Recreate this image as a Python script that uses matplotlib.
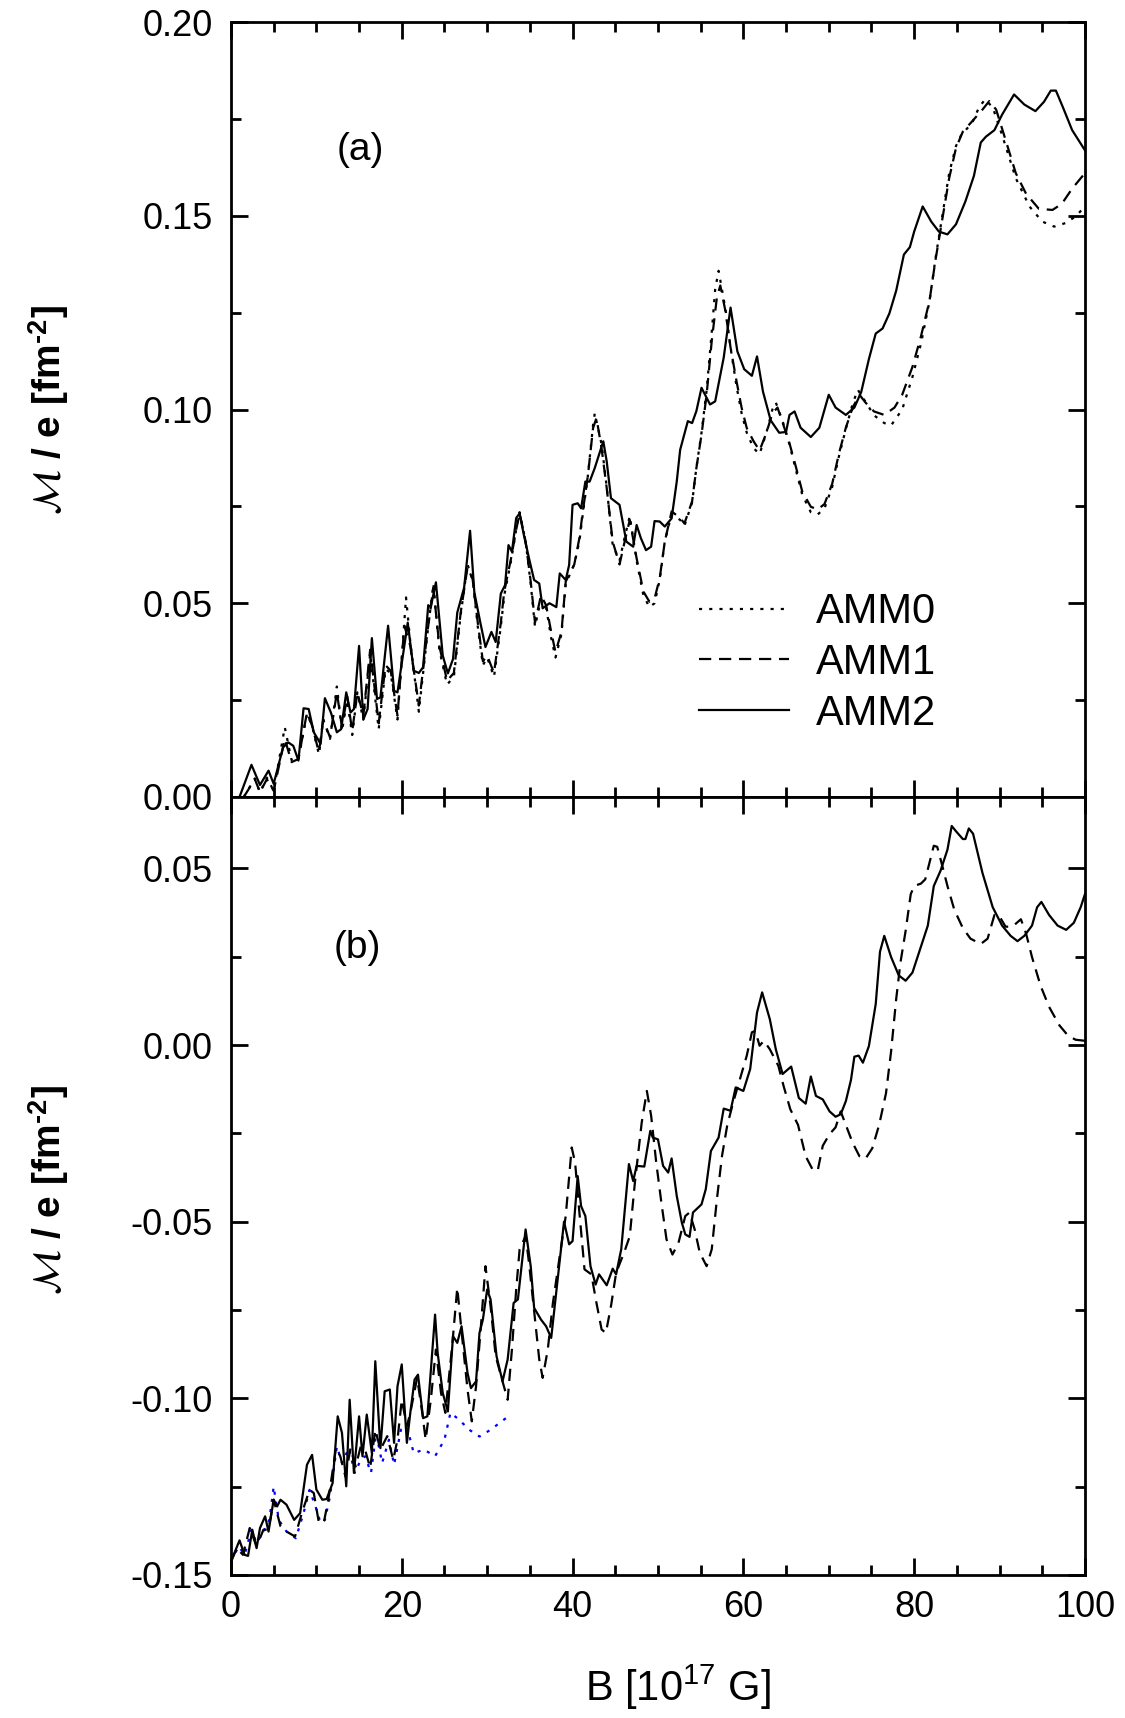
import numpy as np
import matplotlib
matplotlib.use("Agg")
import matplotlib.pyplot as plt
from matplotlib.ticker import MultipleLocator, FormatStrFormatter

plt.rcParams['font.family'] = ['Liberation Sans', 'DejaVu Sans']
plt.rcParams['axes.unicode_minus'] = False

# ---------------- data: panel (a) ----------------
amm2_a = [(1.0, 0.0), (2.4, 0.0083), (3.4, 0.0031), (4.4, 0.0068), (5.0, 0.0034), (6.1, 0.0128),
          (6.7, 0.0141), (7.3, 0.0132), (7.9, 0.0094), (8.5, 0.0229), (9.1, 0.0227), (9.7, 0.0167),
          (10.5, 0.0137), (11.0, 0.0255), (11.7, 0.0218), (12.4, 0.0167), (12.9, 0.0175), (13.5, 0.027),
          (14.0, 0.0218), (14.4, 0.0227), (15.0, 0.039), (15.5, 0.020), (16.0, 0.0227), (16.5, 0.041),
          (17.1, 0.0253), (17.5, 0.0257), (18.4, 0.0442), (19.1, 0.0274), (19.5, 0.027), (20.7, 0.045),
          (21.4, 0.0326), (22.0, 0.032), (22.5, 0.0335), (23.1, 0.0495), (23.4, 0.049), (24.0, 0.0554),
          (24.8, 0.0365), (25.4, 0.0319), (26.0, 0.0356), (26.5, 0.0476), (27.3, 0.054), (28.0, 0.0687),
          (28.5, 0.0528), (29.2, 0.045), (29.8, 0.0387), (30.5, 0.0426), (31.0, 0.040), (31.6, 0.0525),
          (32.1, 0.0547), (32.5, 0.065), (32.9, 0.0633), (33.4, 0.072), (33.8, 0.0732), (34.3, 0.0676),
          (34.9, 0.0616), (35.5, 0.056), (36.1, 0.0551), (36.5, 0.0487), (37.3, 0.050), (38.1, 0.049),
          (38.5, 0.0577), (39.2, 0.056), (39.6, 0.0599), (40.0, 0.0754), (40.6, 0.0758), (41.0, 0.0745),
          (41.5, 0.0814), (42.0, 0.0814), (42.6, 0.0849), (43.6, 0.0918), (44.0, 0.0866), (44.5, 0.0771),
          (45.5, 0.0754), (46.3, 0.0659), (47.1, 0.0646), (47.5, 0.0702), (48.0, 0.0668), (48.6, 0.0637),
          (49.2, 0.0646), (49.6, 0.0712), (50.2, 0.0711), (50.8, 0.0698), (51.6, 0.0719), (52.2, 0.0814),
          (52.6, 0.0896), (53.5, 0.097), (54.0, 0.0965), (54.5, 0.0996), (55.1, 0.1056), (56.1, 0.1013),
          (56.7, 0.1021), (57.7, 0.1134), (58.5, 0.1263), (59.3, 0.115), (60.1, 0.1104), (61.0, 0.1087),
          (61.6, 0.1137), (62.3, 0.1046), (63.2, 0.0972), (64.2, 0.094), (65.0, 0.0942), (65.4, 0.0986),
          (66.0, 0.0995), (66.7, 0.0953), (67.9, 0.0929), (68.9, 0.0953), (70.0, 0.1038), (70.8, 0.1005),
          (72.0, 0.0986), (73.0, 0.1005), (73.8, 0.1045), (74.7, 0.113), (75.5, 0.1196), (76.3, 0.1209),
          (77.1, 0.1248), (77.9, 0.1307), (78.8, 0.140), (79.5, 0.1419), (80.0, 0.1459), (81.0, 0.1524),
          (82.0, 0.1485), (82.9, 0.1459), (83.9, 0.1452), (84.9, 0.1478), (86.0, 0.1537), (87.0, 0.1603),
          (87.8, 0.1689), (88.4, 0.1704), (89.4, 0.1721), (90.3, 0.1761), (91.7, 0.1813), (92.9, 0.1787),
          (94.2, 0.177), (95.2, 0.1794), (96.0, 0.1823), (96.6, 0.1823), (97.4, 0.1781), (98.5, 0.1721),
          (100.0, 0.1669)]

amm1_a = [(1.5, 0.0), (2.8, 0.0046), (3.4, 0.0012), (4.2, 0.0046), (5.0, 0.0016), (6.3, 0.015),
          (7.1, 0.009), (7.9, 0.0098), (8.9, 0.0218), (9.5, 0.0184), (10.3, 0.0115), (10.8, 0.020),
          (11.6, 0.0154), (12.4, 0.027), (13.0, 0.018), (13.6, 0.026), (14.2, 0.017), (14.8, 0.027),
          (15.5, 0.021), (16.3, 0.038), (17.3, 0.019), (18.1, 0.034), (18.7, 0.0326), (19.5, 0.021),
          (20.3, 0.0442), (21.0, 0.039), (22.0, 0.0236), (23.0, 0.0425), (23.7, 0.054), (24.4, 0.039),
          (25.3, 0.030), (26.1, 0.032), (26.9, 0.0476), (27.7, 0.0593), (28.3, 0.0562), (28.9, 0.045),
          (29.5, 0.035), (30.0, 0.0365), (30.8, 0.032), (31.6, 0.045), (32.0, 0.053), (32.8, 0.0616),
          (33.4, 0.069), (33.8, 0.0732), (34.5, 0.066), (35.1, 0.0556), (35.6, 0.045), (36.3, 0.052),
          (36.9, 0.0495), (37.5, 0.0426), (38.0, 0.0374), (38.7, 0.0426), (39.2, 0.0556), (40.2, 0.060),
          (40.8, 0.0668), (41.2, 0.0737), (41.8, 0.083), (42.4, 0.0952), (42.8, 0.0978), (43.4, 0.090),
          (44.0, 0.0797), (44.7, 0.0659), (45.5, 0.060), (46.1, 0.0659), (46.7, 0.0715), (47.5, 0.0616),
          (48.3, 0.053), (49.0, 0.0504), (49.6, 0.0512), (50.2, 0.0564), (50.8, 0.0659), (51.6, 0.0737),
          (52.6, 0.072), (53.1, 0.0706), (54.0, 0.0763), (54.5, 0.0849), (55.1, 0.0935), (55.7, 0.1039),
          (56.3, 0.1177), (56.9, 0.1289), (57.3, 0.132), (57.9, 0.1254), (58.5, 0.116), (59.2, 0.1073),
          (59.8, 0.1004), (60.4, 0.0952), (61.2, 0.0918), (61.9, 0.0894), (62.7, 0.094), (63.4, 0.099),
          (64.0, 0.1005), (64.6, 0.0966), (65.4, 0.0913), (66.2, 0.0848), (66.9, 0.0788), (67.9, 0.0749),
          (68.7, 0.0742), (69.5, 0.0756), (70.4, 0.0808), (71.2, 0.0887), (72.0, 0.0953), (72.8, 0.1005),
          (73.6, 0.1038), (74.3, 0.1018), (75.3, 0.0995), (76.5, 0.0986), (77.7, 0.1005), (78.6, 0.1038),
          (79.8, 0.111), (80.8, 0.1189), (81.8, 0.1281), (82.5, 0.1386), (83.3, 0.1491), (84.1, 0.1597),
          (84.9, 0.1675), (85.7, 0.1717), (86.8, 0.1744), (88.0, 0.1774), (88.8, 0.1796), (89.6, 0.1774),
          (90.8, 0.1689), (91.9, 0.161), (93.1, 0.1557), (94.6, 0.1518), (96.2, 0.1515), (97.3, 0.1531),
          (98.5, 0.157), (100.0, 0.161)]

amm0_a = [(1.5, 0.0), (2.8, 0.0048), (3.4, 0.0012), (4.2, 0.005), (5.0, 0.0016), (6.3, 0.018),
          (7.1, 0.0095), (7.9, 0.0098), (8.9, 0.0215), (9.5, 0.0184), (10.3, 0.011), (10.8, 0.020),
          (11.6, 0.015), (12.4, 0.0285), (13.0, 0.017), (13.6, 0.025), (14.2, 0.016), (14.8, 0.027),
          (15.5, 0.020), (16.3, 0.037), (17.3, 0.0175), (18.1, 0.033), (18.7, 0.032), (19.5, 0.020),
          (20.5, 0.0515), (21.0, 0.040), (22.0, 0.022), (23.0, 0.042), (23.7, 0.055), (24.4, 0.038),
          (25.3, 0.029), (26.1, 0.031), (26.9, 0.047), (27.7, 0.060), (28.3, 0.056), (28.9, 0.044),
          (29.5, 0.034), (30.0, 0.036), (30.8, 0.031), (31.6, 0.044), (32.0, 0.052), (32.8, 0.061),
          (33.4, 0.069), (33.8, 0.0735), (34.5, 0.066), (35.1, 0.055), (35.6, 0.044), (36.3, 0.051),
          (36.9, 0.049), (37.5, 0.041), (38.0, 0.036), (38.7, 0.042), (39.2, 0.055), (40.2, 0.060),
          (40.8, 0.066), (41.2, 0.073), (41.8, 0.083), (42.4, 0.096), (42.6, 0.099), (43.4, 0.091),
          (44.0, 0.080), (44.7, 0.065), (45.5, 0.061), (46.1, 0.067), (46.7, 0.0725), (47.5, 0.061),
          (48.3, 0.052), (49.0, 0.049), (49.6, 0.050), (50.2, 0.056), (50.8, 0.066), (51.6, 0.073),
          (52.6, 0.0715), (53.1, 0.070), (54.0, 0.076), (54.5, 0.085), (55.1, 0.094), (55.7, 0.105),
          (56.3, 0.120), (56.7, 0.131), (57.1, 0.1358), (57.9, 0.126), (58.5, 0.116), (59.2, 0.106),
          (59.8, 0.099), (60.4, 0.094), (61.2, 0.090), (61.9, 0.0885), (62.7, 0.094), (63.4, 0.100),
          (63.8, 0.1018), (64.6, 0.097), (65.4, 0.091), (66.2, 0.084), (66.9, 0.078), (67.9, 0.0735),
          (68.7, 0.0729), (69.5, 0.0745), (70.4, 0.080), (71.2, 0.088), (72.0, 0.095), (72.8, 0.1015),
          (73.4, 0.1051), (74.3, 0.102), (75.3, 0.0985), (76.5, 0.0965), (77.3, 0.0959), (78.6, 0.100),
          (79.8, 0.1084), (80.8, 0.117), (81.8, 0.128), (82.5, 0.139), (83.3, 0.150), (84.1, 0.161),
          (84.9, 0.168), (85.5, 0.1708), (86.8, 0.174), (87.6, 0.178), (88.3, 0.180), (89.2, 0.178),
          (90.3, 0.1708), (91.9, 0.1597), (93.5, 0.1524), (95.0, 0.1485), (96.4, 0.1472), (97.7, 0.1481),
          (98.9, 0.1498), (100.0, 0.1524)]

# ---------------- data: panel (b) ----------------
amm2_b = [(0.0, -0.1462), (1.0, -0.1402), (1.6, -0.1443), (2.0, -0.1446), (2.5, -0.1372), (3.0, -0.1424),
          (3.4, -0.1367), (4.0, -0.1334), (4.4, -0.1377), (5.0, -0.1287), (5.4, -0.1306), (5.8, -0.1287),
          (6.5, -0.1301), (7.4, -0.1344), (8.1, -0.1325), (8.9, -0.1188), (9.5, -0.116), (10.0, -0.1258),
          (10.7, -0.1287), (11.2, -0.1285), (11.9, -0.124), (12.5, -0.1051), (13.0, -0.1098), (13.5, -0.1249),
          (13.9, -0.1004), (14.4, -0.1211), (15.0, -0.1051), (15.4, -0.1164), (15.9, -0.1046), (16.5, -0.1155),
          (16.9, -0.0895), (17.5, -0.1141), (18.0, -0.098), (18.6, -0.0975), (19.1, -0.1126), (19.5, -0.0966),
          (20.0, -0.0904), (20.6, -0.1126), (21.0, -0.1041), (21.5, -0.0947), (21.9, -0.0933), (22.5, -0.1056),
          (23.0, -0.1051), (23.9, -0.0763), (24.2, -0.0871), (24.8, -0.0985), (25.4, -0.1037), (26.0, -0.0824),
          (26.5, -0.0843), (27.0, -0.0796), (27.7, -0.0928), (28.1, -0.0971), (28.7, -0.0952), (29.1, -0.0815),
          (29.5, -0.0777), (30.0, -0.0692), (30.4, -0.072), (31.1, -0.0881), (31.8, -0.0952), (32.4, -0.089),
          (33.1, -0.073), (33.6, -0.072), (34.5, -0.0522), (35.1, -0.0626), (35.5, -0.0744), (36.3, -0.0777),
          (36.9, -0.0796), (37.5, -0.0829), (39.0, -0.050), (39.6, -0.0564), (40.0, -0.0555), (40.6, -0.0371),
          (41.0, -0.0456), (41.5, -0.0484), (42.1, -0.0626), (42.7, -0.0678), (43.1, -0.0649), (44.0, -0.068),
          (44.7, -0.0633), (45.1, -0.0649), (45.7, -0.0578), (46.6, -0.0337), (47.1, -0.0385), (47.5, -0.0342),
          (48.4, -0.0344), (49.1, -0.0243), (49.4, -0.0262), (50.0, -0.0267), (50.6, -0.0342), (51.2, -0.0361),
          (51.6, -0.0321), (52.2, -0.0427), (52.8, -0.0503), (53.2, -0.0536), (53.7, -0.0543), (54.1, -0.0474),
          (55.1, -0.0451), (55.6, -0.0408), (56.2, -0.030), (57.1, -0.0262), (57.7, -0.018), (58.5, -0.0186),
          (59.1, -0.012), (60.0, -0.013), (60.8, -0.0068), (61.6, 0.0092), (62.2, 0.0149), (63.1, 0.0073),
          (63.8, -0.0012), (64.6, -0.0082), (65.6, -0.0061), (66.5, -0.0150), (67.3, -0.0166), (67.9, -0.0089),
          (68.5, -0.0144), (69.3, -0.0154), (70.1, -0.0188), (70.8, -0.0203), (71.4, -0.0196), (72.0, -0.0159),
          (72.6, -0.0099), (73.0, -0.0033), (73.5, -0.003), (74.0, -0.005), (74.7, -0.0003), (75.5, 0.0116),
          (76.0, 0.0264), (76.5, 0.0309), (77.3, 0.0249), (78.2, 0.0197), (79.0, 0.0182), (79.8, 0.0205),
          (80.8, 0.0279), (81.6, 0.0338), (82.3, 0.045), (83.1, 0.0494), (83.9, 0.0553), (84.4, 0.062),
          (84.9, 0.0605), (85.7, 0.0583), (86.0, 0.0583), (86.4, 0.0613), (86.9, 0.0598), (88.0, 0.0487),
          (89.2, 0.039), (90.3, 0.0338), (91.3, 0.0309), (92.1, 0.0294), (92.9, 0.0309), (93.8, 0.0338),
          (94.4, 0.039), (94.9, 0.0405), (95.8, 0.0368), (96.8, 0.0338), (97.8, 0.0326), (98.7, 0.0346),
          (99.5, 0.039), (100.0, 0.0427)]

amm1_b = [(0.0, -0.1462), (0.7, -0.1424), (1.4, -0.1443), (2.2, -0.1367), (3.0, -0.1419), (3.8, -0.1372),
          (4.4, -0.1372), (5.0, -0.1287), (5.8, -0.1362), (6.5, -0.1377), (7.5, -0.1391), (8.3, -0.1325),
          (9.2, -0.1259), (9.7, -0.1268), (10.3, -0.1353), (10.9, -0.1348), (11.4, -0.1287), (12.3, -0.1141),
          (12.8, -0.1164), (13.4, -0.1221), (14.0, -0.1141), (14.6, -0.1193), (15.2, -0.1136), (15.7, -0.1145),
          (16.3, -0.1197), (16.9, -0.1089), (17.5, -0.1145), (18.3, -0.1107), (19.0, -0.1174), (19.5, -0.1117),
          (20.0, -0.1004), (20.6, -0.1079), (21.0, -0.1041), (21.8, -0.0942), (22.4, -0.1041), (22.8, -0.1117),
          (23.4, -0.1004), (24.0, -0.0862), (24.6, -0.0985), (25.1, -0.1041), (25.9, -0.0852), (26.5, -0.0687),
          (27.1, -0.0834), (27.7, -0.0975), (28.2, -0.1065), (28.7, -0.0966), (29.3, -0.0786), (29.8, -0.0626),
          (30.4, -0.0739), (31.0, -0.0881), (31.8, -0.0952), (32.4, -0.1004), (32.9, -0.0862), (33.4, -0.0692),
          (33.8, -0.0578), (34.5, -0.0541), (34.9, -0.0616), (35.5, -0.0753), (36.1, -0.089), (36.5, -0.0942),
          (37.1, -0.0862), (37.7, -0.073), (38.5, -0.0597), (39.2, -0.0484), (39.9, -0.029), (40.3, -0.0333),
          (40.8, -0.0474), (41.4, -0.0635), (42.2, -0.0649), (42.8, -0.073), (43.4, -0.0805), (43.9, -0.0815),
          (44.5, -0.0739), (45.1, -0.0645), (46.1, -0.0583), (46.7, -0.0541), (47.3, -0.0389), (48.1, -0.0219),
          (48.7, -0.013), (49.2, -0.020), (49.8, -0.0333), (50.4, -0.0446), (51.0, -0.055), (51.7, -0.0593),
          (52.4, -0.056), (53.2, -0.0484), (53.7, -0.0474), (54.3, -0.0522), (54.9, -0.0588), (55.7, -0.0626),
          (56.3, -0.0578), (56.9, -0.0437), (57.5, -0.0314), (58.1, -0.0229), (58.8, -0.0163), (59.6, -0.0097),
          (60.4, -0.003), (61.0, 0.0036), (61.4, 0.004), (61.9, -0.0002), (62.4, 0.0012), (63.1, -0.0012),
          (64.1, -0.0059), (64.7, -0.0115), (65.5, -0.0182), (66.4, -0.0226), (67.3, -0.0315), (68.1, -0.0352),
          (68.7, -0.0356), (69.3, -0.0285), (70.1, -0.0252), (70.8, -0.0233), (71.4, -0.0188), (72.0, -0.0226),
          (72.8, -0.0277), (73.6, -0.0315), (74.3, -0.0322), (75.1, -0.0292), (75.9, -0.0226), (76.7, -0.0137),
          (77.3, -0.0018), (77.9, 0.0131), (78.4, 0.0234), (79.0, 0.0323), (79.6, 0.0427), (80.0, 0.045),
          (80.8, 0.0457), (81.3, 0.0469), (81.8, 0.0516), (82.3, 0.0564), (82.7, 0.0561), (83.2, 0.0516),
          (83.9, 0.045), (84.7, 0.0383), (85.7, 0.0331), (86.6, 0.0301), (87.8, 0.0286), (88.6, 0.0301),
          (89.4, 0.0368), (89.9, 0.0368), (90.7, 0.0335), (91.5, 0.0335), (92.5, 0.0356), (93.1, 0.0316),
          (93.8, 0.0249), (94.8, 0.0168), (95.8, 0.0108), (97.0, 0.0056), (98.0, 0.0027), (98.9, 0.0015),
          (100.0, 0.0012)]

amm0_b = [(0.0, -0.1462), (0.9, -0.1419), (1.6, -0.1443), (2.4, -0.1372), (3.0, -0.141), (3.8, -0.1377),
          (4.5, -0.1344), (5.0, -0.125), (5.6, -0.1344), (6.5, -0.1377), (7.6, -0.1396), (8.5, -0.1325),
          (9.2, -0.1259), (9.9, -0.1306), (10.5, -0.1353), (11.0, -0.1344), (11.6, -0.1277), (12.4, -0.1136),
          (13.0, -0.1183), (13.8, -0.1141), (14.5, -0.1211), (15.2, -0.1174), (15.7, -0.1164), (16.4, -0.1211),
          (17.0, -0.1098), (17.7, -0.1183), (18.5, -0.1117), (19.1, -0.1188), (19.9, -0.1089), (20.6, -0.1079),
          (21.4, -0.1155), (22.6, -0.1145), (23.9, -0.1164), (25.0, -0.1117), (25.7, -0.1041), (26.7, -0.106),
          (27.9, -0.1089), (29.1, -0.1108), (30.4, -0.1089), (32.2, -0.1056)]

labels_legend = ["AMM0", "AMM1", "AMM2"]
xticks_major = [0, 20, 40, 60, 80, 100]

# ---------------- figure ----------------
fig = plt.figure(figsize=(11.25, 17.18), dpi=100)
ax1 = fig.add_axes([0.2053, 0.53609, 0.7591, 0.45110])
ax2 = fig.add_axes([0.2053, 0.08324, 0.7591, 0.45285])

LW = 1.6
dot_style = dict(linestyle=(0, (1.4, 3.2)), linewidth=LW)
dash_style = dict(linestyle=(0, (5.5, 3.5)), linewidth=LW)

a0 = np.array(amm0_a).T
a1 = np.array(amm1_a).T
a2 = np.array(amm2_a).T
l0, = ax1.plot(a0[0], a0[1], color='black', **dot_style)
l1, = ax1.plot(a1[0], a1[1], color='black', **dash_style)
l2, = ax1.plot(a2[0], a2[1], color='black', linestyle='-', linewidth=LW)

b0 = np.array(amm0_b).T
b1 = np.array(amm1_b).T
b2 = np.array(amm2_b).T
ax2.plot(b0[0], b0[1], color='#0000ff', **dot_style)
ax2.plot(b1[0], b1[1], color='black', **dash_style)
ax2.plot(b2[0], b2[1], color='black', linestyle='-', linewidth=LW)

for ax in (ax1, ax2):
    ax.set_xlim(0, 100)
    ax.xaxis.set_major_locator(MultipleLocator(20))
    ax.xaxis.set_minor_locator(MultipleLocator(5))
    ax.yaxis.set_major_locator(MultipleLocator(0.05))
    ax.yaxis.set_minor_locator(MultipleLocator(0.025))
    ax.yaxis.set_major_formatter(FormatStrFormatter('%.2f'))
    ax.tick_params(which='both', direction='in', top=True, right=True, width=2)
    ax.tick_params(which='major', length=12)
    ax.tick_params(which='minor', length=7)
    ax.tick_params(axis='y', labelsize=26, pad=13)
    ax.tick_params(axis='x', labelsize=26, pad=11)
    for s in ax.spines.values():
        s.set_linewidth(2)

ax1.set_ylim(0, 0.20)
ax2.set_ylim(-0.15, 0.0702)
ax1.tick_params(axis='x', labelbottom=False)
ax2.set_xticks(xticks_major)

ax1.text(15.1, 0.167, '(a)', fontsize=28, ha='center', va='center')
ax2.text(14.8, 0.0276, '(b)', fontsize=28, ha='center', va='center')

ax1.legend([l0, l1, l2], labels_legend, loc='center left', bbox_to_anchor=(0.548, 0.173),
           frameon=False, fontsize=30, handlelength=2.16, handletextpad=0.65,
           labelspacing=0.26, borderpad=0, borderaxespad=0)

ylab = '$\\mathbf{\\mathcal{M}}$ / e [fm$^{\\mathregular{\u20102}}$]'
fig.text(49 / 1125, 1 - 410 / 1718, ylab, rotation=90, ha='center', va='center',
         fontsize=28, fontweight='bold', math_fontfamily='stix')
fig.text(49 / 1125, 1 - 1190 / 1718, ylab, rotation=90, ha='center', va='center',
         fontsize=28, fontweight='bold', math_fontfamily='stix')
fig.text(678 / 1125, 1 - 1687 / 1718, r'B [10$^{\mathregular{17}}$ G]', ha='center', va='center',
         fontsize=30)

fig.savefig('out.png', dpi=100)
